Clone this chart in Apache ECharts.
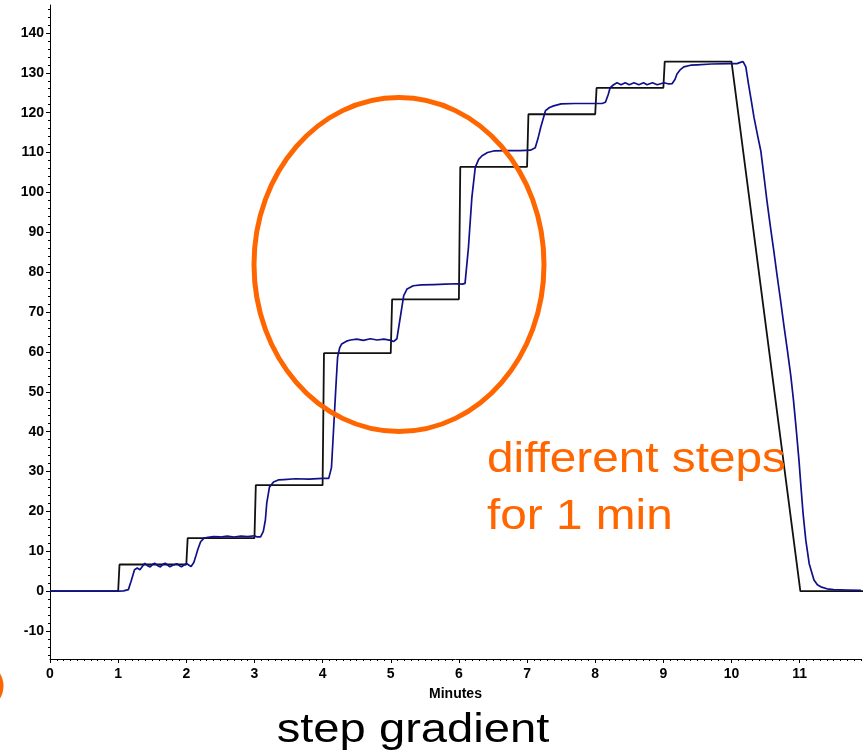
<!DOCTYPE html>
<html>
<head>
<meta charset="utf-8">
<script src="https://cdn.jsdelivr.net/npm/echarts@6/dist/echarts.min.js"></script>
<style>
  html, body { margin: 0; padding: 0; background: #fff; }
  #chart { width: 865px; height: 754px; }
</style>
</head>
<body>
<div id="chart"></div>
<script>
// Programmed step gradient (time in minutes, value)
const programTime = [0, 1.0, 1.02, 2.0, 2.02, 3.0, 3.02, 4.0, 4.02, 5.0, 5.02, 6.0, 6.02, 7.0, 7.02, 8.0, 8.02, 9.0, 9.02, 10.0, 11.01, 11.95];
const programValue = [0, 0, 6.7, 6.7, 13.3, 13.3, 26.6, 26.6, 59.7, 59.7, 73.2, 73.2, 106.4, 106.4, 119.6, 119.6, 126.2, 126.2, 132.8, 132.8, 0, 0];

// Measured response trace
const measuredTime = [
  0, 1.0, 1.08, 1.15, 1.19, 1.24, 1.28, 1.32, 1.36, 1.39, 1.43, 1.47, 1.51, 1.54, 1.58, 1.62, 1.66, 1.69, 1.73, 1.76,
  1.80, 1.86, 1.90, 1.93, 1.97, 2.01, 2.04, 2.07, 2.11, 2.14, 2.17, 2.21, 2.26, 2.32, 2.4, 2.5, 2.6, 2.7, 2.8, 2.9,
  3.0, 3.04, 3.09, 3.13, 3.16, 3.18, 3.22, 3.28, 3.35, 3.43, 3.6, 3.8, 4.0, 4.09, 4.11, 4.13, 4.16, 4.20, 4.22, 4.25,
  4.28, 4.35, 4.41, 4.5, 4.6, 4.7, 4.8, 4.9, 5.0, 5.04, 5.09, 5.14, 5.19, 5.24, 5.33, 5.45, 5.63, 5.8, 5.97, 6.05,
  6.09, 6.14, 6.19, 6.24, 6.29, 6.34, 6.42, 6.51, 6.7, 6.9, 7.05, 7.12, 7.16, 7.20, 7.27, 7.33, 7.39, 7.5, 7.7, 8.0,
  8.1, 8.15, 8.19, 8.22, 8.27, 8.32, 8.38, 8.44, 8.50, 8.57, 8.64, 8.71, 8.76, 8.84, 8.91, 9.01, 9.08, 9.13, 9.17, 9.20,
  9.25, 9.30, 9.40, 9.50, 9.7, 10.0, 10.08, 10.13, 10.17, 10.21, 10.25, 10.29, 10.33, 10.38, 10.43, 10.48, 10.52, 10.57, 10.62, 10.67,
  10.72, 10.77, 10.82, 10.87, 10.91, 10.95, 10.99, 11.02, 11.05, 11.09, 11.14, 11.21, 11.26, 11.31, 11.4, 11.5, 11.7, 11.9
];
const measuredValue = [
  0, 0, 0.1, 0.4, 2.5, 5.4, 5.8, 5.4, 6.3, 7.0, 6.4, 6.1, 6.8, 7.0, 6.4, 6.1, 6.8, 7.0, 6.5, 6.1,
  6.5, 6.9, 6.4, 6.1, 6.6, 6.9, 6.5, 6.2, 7.2, 8.8, 10.5, 12.4, 13.3, 13.5, 13.7, 13.6, 13.8, 13.6, 13.8, 13.7,
  13.9, 13.6, 13.6, 15.0, 17.8, 22.0, 26.1, 27.4, 27.9, 28.0, 28.2, 28.1, 28.3, 28.3, 28.6, 31.0, 40.3, 52.8, 58.7, 61.0,
  62.0, 62.7, 63.0, 63.2, 62.9, 63.3, 63.0, 63.2, 62.9, 62.6, 63.3, 68.7, 74.1, 75.8, 76.6, 76.8, 76.9, 77.0, 77.1, 77.0,
  77.2, 86.2, 98.7, 106.3, 108.3, 109.2, 110.0, 110.4, 110.5, 110.5, 110.6, 111.2, 113.5, 116.3, 120.5, 121.3, 121.7, 122.2, 122.3, 122.3,
  122.3, 122.6, 124.5, 126.3, 127.0, 127.5, 127.0, 127.5, 127.0, 127.5, 127.0, 127.5, 127.0, 127.5, 127.0, 127.5, 127.2, 127.3, 128.3, 129.7,
  130.8, 131.5, 131.9, 132.0, 132.2, 132.3, 132.3, 132.6, 132.8, 131.5, 127.1, 123.0, 118.8, 114.5, 110.4, 103.5, 97.9, 91.5, 85.4, 79.0,
  72.9, 66.5, 60.4, 54.0, 47.8, 40.5, 32.8, 26.0, 19.5, 12.8, 6.9, 2.8, 1.6, 1.1, 0.6, 0.4, 0.3, 0.2
];

// Axis ticks and labels
const xLabels = [0, 1, 2, 3, 4, 5, 6, 7, 8, 9, 10, 11];
const yLabels = [-10, 0, 10, 20, 30, 40, 50, 60, 70, 80, 90, 100, 110, 120, 130, 140];
const xMinor = [];
for (let i = 0; i <= 119; i++) { if (i % 10 !== 0) xMinor.push(+(i / 10).toFixed(1)); }
const yMinor = [];
for (let v = -16; v <= 146; v += 2) { if (v % 10 !== 0) yMinor.push(v); }

const FONT = "'Liberation Sans', Arial, sans-serif";
const ORANGE = '#ff6600';

const zip = (a, b) => a.map((t, i) => [t, b[i]]);

const chart = echarts.init(document.getElementById('chart'), null, { renderer: 'canvas' });

const axisLineOn = { show: true, onZero: false, lineStyle: { color: '#000', width: 1 } };
const axisLineOff = { show: false, onZero: false };

const baseY = { type: 'value', min: -17, max: 147, position: 'left', splitLine: { show: false } };
const baseX = { type: 'value', min: 0, max: 11.9, position: 'bottom', splitLine: { show: false } };

chart.setOption({
  animation: false,
  backgroundColor: '#fff',
  grid: { left: 50, right: 4, top: 5, bottom: 95, containLabel: false },
  xAxis: [
    Object.assign({}, baseX, {
      axisLine: axisLineOn,
      name: 'Minutes', nameLocation: 'middle', nameGap: 28,
      nameTextStyle: { fontFamily: FONT, fontWeight: 'bold', fontSize: 14, color: '#000' },
      axisTick: { show: true, length: 4, customValues: xLabels, lineStyle: { color: '#000' } },
      axisLabel: { show: true, customValues: xLabels, margin: 8, fontFamily: FONT, fontWeight: 'bold', fontSize: 14, color: '#000' }
    }),
    Object.assign({}, baseX, {
      axisLine: axisLineOff,
      axisTick: { show: true, length: 2, customValues: xMinor, lineStyle: { color: '#000' } },
      axisLabel: { show: false }
    })
  ],
  yAxis: [
    Object.assign({}, baseY, {
      axisLine: axisLineOn,
      axisTick: { show: true, length: 4, customValues: yLabels, lineStyle: { color: '#000' } },
      axisLabel: { show: true, customValues: yLabels, margin: 6, fontFamily: FONT, fontWeight: 'bold', fontSize: 14, color: '#000' }
    }),
    Object.assign({}, baseY, {
      axisLine: axisLineOff,
      axisTick: { show: true, length: 2, customValues: yMinor, lineStyle: { color: '#000' } },
      axisLabel: { show: false }
    })
  ],
  series: [
    {
      name: 'Program', type: 'line', xAxisIndex: 0, yAxisIndex: 0,
      data: zip(programTime, programValue),
      showSymbol: false, symbol: 'none', clip: true,
      lineStyle: { color: '#111', width: 1.8 }, z: 2
    },
    {
      name: 'Measured', type: 'line', xAxisIndex: 0, yAxisIndex: 0,
      data: zip(measuredTime, measuredValue),
      showSymbol: false, symbol: 'none', clip: true,
      lineStyle: { color: '#10108a', width: 1.7 }, z: 3
    }
  ],
  graphic: [
    {
      type: 'ellipse', z: 10,
      shape: { cx: 399, cy: 264.5, rx: 145, ry: 167 },
      style: { fill: 'none', stroke: ORANGE, lineWidth: 5 }
    },
    {
      type: 'ellipse', z: 10,
      shape: { cx: -30, cy: 686, rx: 31, ry: 25 },
      style: { fill: 'none', stroke: ORANGE, lineWidth: 5 }
    },
    {
      type: 'text', z: 10, x: 487, y: 460, scaleX: 1.11,
      style: { text: 'different steps', fill: ORANGE, font: '43px ' + FONT, textAlign: 'left', textVerticalAlign: 'middle' }
    },
    {
      type: 'text', z: 10, x: 487, y: 517, scaleX: 1.11,
      style: { text: 'for 1 min', fill: ORANGE, font: '43px ' + FONT, textAlign: 'left', textVerticalAlign: 'middle' }
    },
    {
      type: 'text', z: 10, x: 413, y: 731, scaleX: 1.15,
      style: { text: 'step gradient', fill: '#000', font: '41px ' + FONT, textAlign: 'center', textVerticalAlign: 'middle' }
    }
  ]
});
</script>
</body>
</html>
